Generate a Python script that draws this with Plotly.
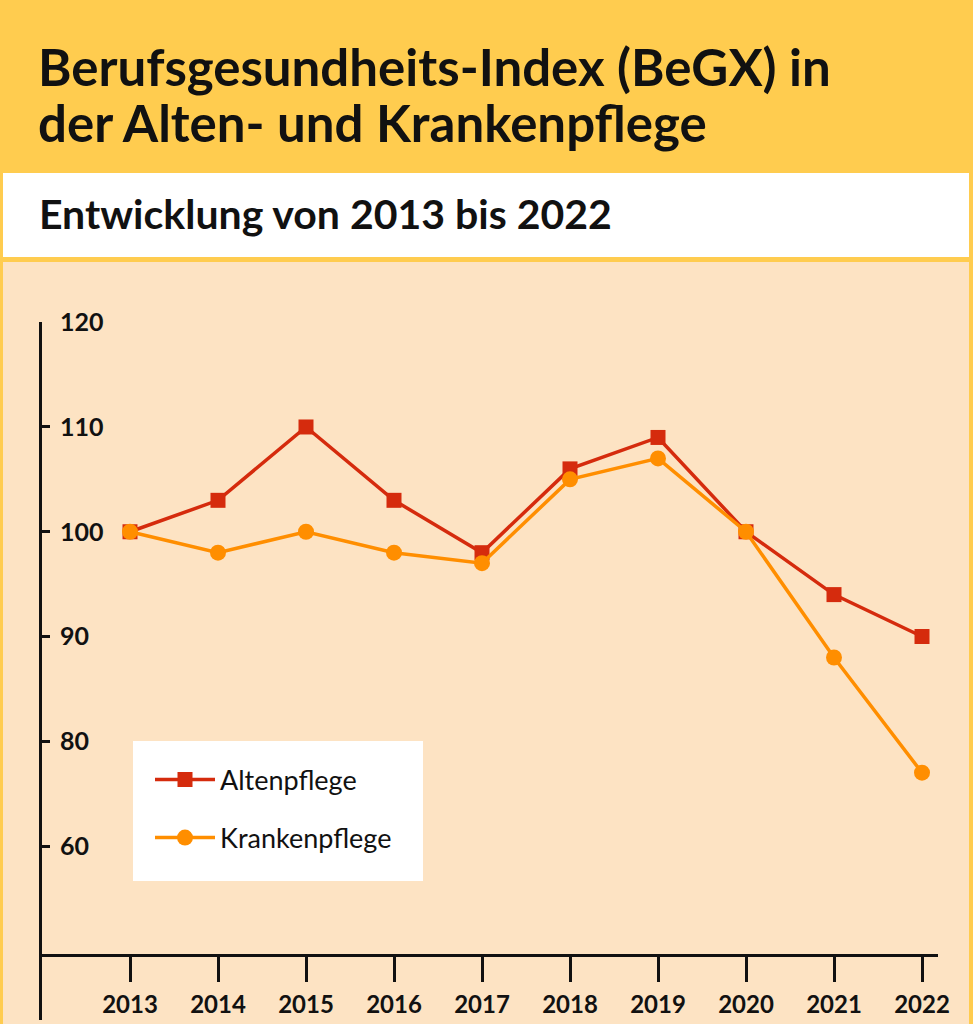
import plotly.graph_objects as go

years = [2013, 2014, 2015, 2016, 2017, 2018, 2019, 2020, 2021, 2022]
altenpflege = [100, 103, 110, 103, 98, 106, 109, 100, 94, 90]
krankenpflege = [100, 98, 100, 98, 97, 105, 107, 100, 88, 77]
y_tickvals = [120, 110, 100, 90, 80, 70]
y_ticktext = ["120", "110", "100", "90", "80", "60"]

W, H = 973, 1024
RED = "#D52B0D"
ORANGE = "#FF8E00"
YELLOW = "#FFCC4F"
BEIGE = "#FDE3C3"
INK = "#111111"
FONT = "Lato"

def px(x):
    return x / W

def py(y):
    return (H - y) / H

fig = go.Figure()
fig.add_trace(go.Scatter(
    x=years, y=altenpflege, name="Altenpflege", mode="lines+markers",
    line=dict(color=RED, width=3.5),
    marker=dict(symbol="square", size=15, color=RED),
    legend="legend",
))
fig.add_trace(go.Scatter(
    x=years, y=krankenpflege, name="Krankenpflege", mode="lines+markers",
    line=dict(color=ORANGE, width=3.5),
    marker=dict(symbol="circle", size=16, color=ORANGE),
    legend="legend2",
))

shapes = [
    dict(type="rect", xref="paper", yref="paper", x0=px(3), x1=px(969), y0=py(257), y1=py(173),
         fillcolor="white", line=dict(width=0), layer="below"),
    dict(type="rect", xref="paper", yref="paper", x0=px(3), x1=px(969), y0=py(1030), y1=py(262),
         fillcolor=BEIGE, line=dict(width=0), layer="below"),
    dict(type="rect", xref="paper", yref="paper", x0=px(133), x1=px(423), y0=py(881), y1=py(741),
         fillcolor="white", line=dict(width=0), layer="below"),
]

annotations = [
    dict(text="<b>Berufsgesundheits-Index (BeGX) in</b>", x=px(36), y=py(66), xref="paper", yref="paper",
         xanchor="left", yanchor="middle", showarrow=False, font=dict(family=FONT, size=51, color=INK)),
    dict(text="<b>der Alten- und Krankenpflege</b>", x=px(36), y=py(122), xref="paper", yref="paper",
         xanchor="left", yanchor="middle", showarrow=False, font=dict(family=FONT, size=51, color=INK)),
    dict(text="<b>Entwicklung von 2013 bis 2022</b>", x=px(37), y=py(213), xref="paper", yref="paper",
         xanchor="left", yanchor="middle", showarrow=False, font=dict(family=FONT, size=41, color=INK)),
]

fig.update_layout(
    width=W, height=H,
    margin=dict(l=0, r=0, t=0, b=0, pad=0, autoexpand=False),
    paper_bgcolor=YELLOW,
    plot_bgcolor="rgba(0,0,0,0)",
    font=dict(family=FONT, color=INK),
    shapes=shapes,
    annotations=annotations,
    xaxis=dict(
        domain=[px(42), px(938)],
        range=[2012, 2022 + 16 / 88],
        anchor="free", position=py(955),
        tickvals=years, ticktext=["<b>%d</b>" % y for y in years],
        ticks="outside", ticklen=25, tickwidth=3, tickcolor=INK,
        showline=True, linecolor=INK, linewidth=3,
        showgrid=False, zeroline=False, automargin=False,
        tickfont=dict(family=FONT, size=24, color=INK),
        ticklabelstandoff=2,
    ),
    yaxis=dict(
        domain=[py(1020), py(322)],
        range=[120 - 698 / 10.48, 120.02],
        tickvals=y_tickvals, ticktext=["<b>%s</b>" % t for t in y_ticktext],
        ticks="inside", ticklen=8, tickwidth=3, tickcolor=INK,
        ticklabelposition="inside", ticklabeloverflow="allow",
        showline=True, linecolor=INK, linewidth=3,
        showgrid=False, zeroline=False, automargin=False,
        tickfont=dict(family=FONT, size=25, color=INK),
        ticklabelstandoff=12,
    ),
    legend=dict(
        x=px(150), y=py(780), xanchor="left", yanchor="middle",
        bgcolor="rgba(0,0,0,0)", font=dict(family=FONT, size=27, color=INK),
        itemwidth=60,
    ),
    legend2=dict(
        x=px(150), y=py(838), xanchor="left", yanchor="middle",
        bgcolor="rgba(0,0,0,0)", font=dict(family=FONT, size=27, color=INK),
        itemwidth=60,
    ),
    showlegend=True,
)

fig.write_html("out.html")
